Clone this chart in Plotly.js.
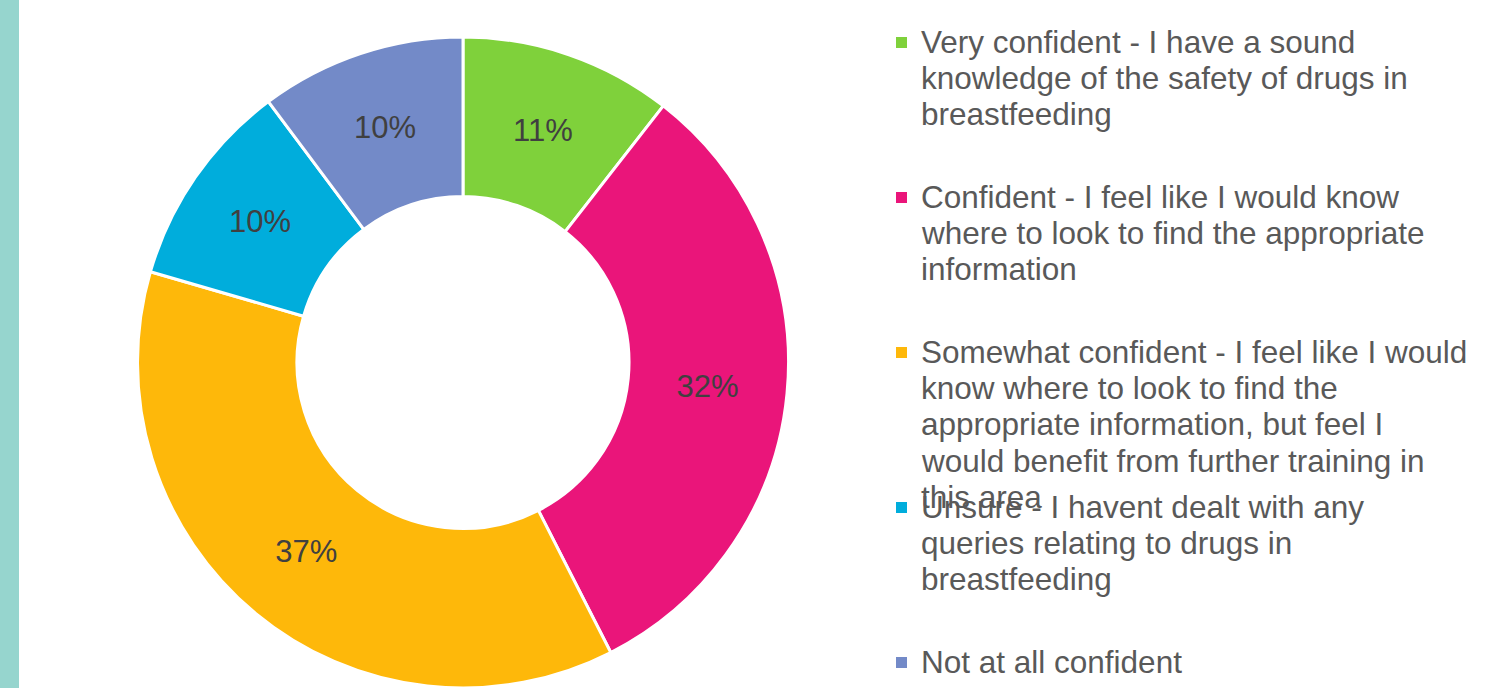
<!DOCTYPE html>
<html>
<head>
<meta charset="utf-8">
<script src="https://cdn.plot.ly/plotly-3.0.1.min.js"></script>
<style>
html,body{margin:0;padding:0;background:#fff;}
#chart{width:1487px;height:688px;}
</style>
</head>
<body>
<div id="chart"></div>
<script>
// Data
var categories = [
  "Very confident - I have a sound knowledge of the safety of drugs in breastfeeding",
  "Confident - I feel like I would know where to look to find the appropriate information",
  "Somewhat confident - I feel like I would know where to look to find the appropriate information, but feel I would benefit from further training in this area",
  "Unsure - I havent dealt with any queries relating to drugs in breastfeeding",
  "Not at all confident"
];
var values = [10.55, 31.95, 37.0, 10.3, 10.2];
var colors = ["#7FD13B", "#EA157A", "#FEB80A", "#00ADDC", "#738AC8"];
var legendLines = [
  ["Very confident - I have a sound", "knowledge of the safety of drugs in", "breastfeeding"],
  ["Confident - I feel like I would know", "where to look to find the appropriate", "information"],
  ["Somewhat confident - I feel like I would", "know where to look to find the", "appropriate information, but feel I", "would benefit from further training in", "this area"],
  ["Unsure - I havent dealt with any", "queries relating to drugs in", "breastfeeding"],
  ["Not at all confident"]
];

var W = 1487, H = 688;
function px(x){ return x / W; }
function py(y){ return 1 - y / H; }

var trace = {
  type: 'pie',
  labels: categories,
  values: values,
  sort: false,
  direction: 'clockwise',
  rotation: 0,
  hole: 0.51,
  marker: {colors: colors, line: {color: '#ffffff', width: 3}},
  textinfo: 'percent',
  texttemplate: '%{percent:.0%}',
  textposition: 'inside',
  insidetextorientation: 'horizontal',
  textfont: {family: 'Liberation Sans, Arial, sans-serif', size: 31, color: '#404040'},
  domain: {x: [px(137), px(789)], y: [0, py(37)]},
  showlegend: false,
  hoverinfo: 'label+percent'
};

var shapes = [{
  type: 'rect', xref: 'paper', yref: 'paper',
  x0: 0, x1: px(19), y0: 0, y1: 1,
  fillcolor: '#96D5CE', line: {width: 0}, layer: 'below'
}];
var annotations = [];
var itemStart = 42, itemStep = 155, lineStep = 36.2;
for (var i = 0; i < legendLines.length; i++) {
  var y0 = itemStart + i * itemStep;
  shapes.push({
    type: 'rect', xref: 'paper', yref: 'paper',
    x0: px(896), x1: px(907), y0: py(y0 + 6), y1: py(y0 - 5),
    fillcolor: colors[i], line: {width: 0}
  });
  for (var j = 0; j < legendLines[i].length; j++) {
    annotations.push({
      xref: 'paper', yref: 'paper',
      x: px(919), y: py(y0 + j * lineStep),
      xanchor: 'left', yanchor: 'middle',
      showarrow: false,
      text: legendLines[i][j],
      font: {family: 'Liberation Sans, Arial, sans-serif', size: 31.5, color: '#595959'}
    });
  }
}

var layout = {
  width: W, height: H,
  margin: {l: 0, r: 0, t: 0, b: 0},
  paper_bgcolor: '#ffffff',
  shapes: shapes,
  annotations: annotations,
  showlegend: false
};

Plotly.newPlot('chart', [trace], layout, {displayModeBar: false, staticPlot: true});
</script>
</body>
</html>
